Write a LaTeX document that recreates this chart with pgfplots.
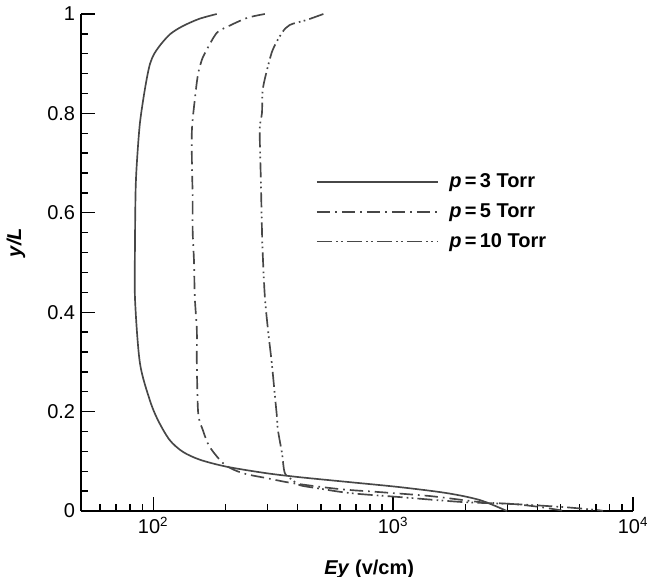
\documentclass[border=0pt]{standalone}
\usepackage{pgfplots}
\pgfplotsset{compat=1.18}
\usepackage{pgfplotstable}
\usepackage{fontspec}
\setmainfont{Liberation Sans}

\definecolor{curve}{gray}{0.28}

% Ey (v/cm) against y/L
\pgfplotstableread{
E y
184 1.000
155 0.990
132 0.975
118 0.960
108 0.940
101 0.920
97 0.900
94 0.870
91 0.830
88 0.780
86 0.720
84.5 0.650
83.9 0.525
84 0.425
88 0.298
96.8 0.223
104.6 0.183
117 0.143
133 0.119
157 0.103
203 0.089
297 0.076
408 0.068
661 0.058
1067 0.048
1675 0.036
2300 0.022
2980 0
}\pthree

\pgfplotstableread{
E y
292 1.000
246 0.992
203 0.974
184 0.962
167 0.928
161 0.913
154 0.881
149 0.827
145 0.767
145 0.700
146 0.632
146 0.565
148 0.499
149 0.431
152 0.364
152 0.298
154 0.197
161 0.163
172 0.129
199 0.093
237 0.076
298 0.066
382 0.056
600 0.044
881 0.038
1430 0.030
2300 0.018
3160 0.014
4100 0.008
5200 0
}\pfive

\pgfplotstableread{
E y
512 1.000
436 0.988
371 0.978
344 0.962
315 0.928
298 0.887
286 0.847
284 0.801
278 0.767
281 0.666
284 0.565
286 0.519
292 0.431
301 0.364
312 0.298
322 0.229
328 0.189
331 0.163
344 0.117
354 0.076
382 0.062
408 0.052
481 0.046
661 0.036
1067 0.028
1950 0.018
3160 0.014
5090 0.008
7060 0.002
7500 0
}\pten

\begin{document}
\begin{tikzpicture}
\begin{axis}[
    scale only axis,
    width=331.2pt, height=298.2pt,
    xmode=log,
    xmin=50, xmax=10000,
    ymin=0, ymax=1,
    axis lines=left,
    axis line style={-, line width=1.1pt},
    tick align=inside,
    major tick length=8.5pt,
    minor tick length=4pt,
    every tick/.style={black, line width=0.8pt},
    xtick={100,1000,10000},
    xticklabels={10\textsuperscript{2},10\textsuperscript{3},10\textsuperscript{4}},
    minor xtick={60,70,80,90,200,300,400,500,600,700,800,900,2000,3000,4000,5000,6000,7000,8000,9000},
    ytick={0,0.2,0.4,0.6,0.8,1},
    minor y tick num=4,
    yticklabel style={/pgf/number format/assume math mode=true},
    tick label style={font=\fontsize{12}{14}\selectfont},
    xlabel={\textbf{\textit{Ey} (v/cm)}},
    ylabel={\textbf{\textit{y/L}}},
    label style={font=\fontsize{12}{14}\selectfont},
    xlabel style={at={(axis description cs:0.522,-0.117)}, anchor=center},
    ylabel style={at={(axis description cs:-0.118,0.54)}, anchor=center},
    legend cell align=left,
    legend image code/.code={\draw[#1] (0pt,0pt) -- (73pt,0pt); \path (77pt,0pt);},
    legend style={draw=none, fill=none, inner sep=0pt,
        at={(axis description cs:0.425,0.602)}, anchor=west,
        font=\fontsize{12}{14}\selectfont, row sep=4pt},
]
\addplot[curve, line width=1pt, smooth, tension=0.5] table[x=E, y=y] {\pthree};
\addlegendentry{\textbf{\textit{p}\,=\,3 Torr}}
\addplot[curve, line width=1pt, smooth, tension=0.5, dash pattern=on 8pt off 3pt on 1pt off 3pt] table[x=E, y=y] {\pfive};
\addlegendentry{\textbf{\textit{p}\,=\,5 Torr}}
\addplot[curve, line width=1pt, smooth, tension=0.5, dash pattern=on 9pt off 2.5pt on 1pt off 2pt on 1pt off 2.5pt] table[x=E, y=y] {\pten};
\addlegendentry{\textbf{\textit{p}\,=\,10 Torr}}
\coordinate (sw) at (rel axis cs:0,0);
\coordinate (ne) at (rel axis cs:1,1);
\end{axis}
\pgfresetboundingbox
\path[use as bounding box] ([shift={(-48.6pt,-39pt)}]sw) rectangle ([shift={(8.4pt,8.4pt)}]ne);
\end{tikzpicture}
\end{document}
